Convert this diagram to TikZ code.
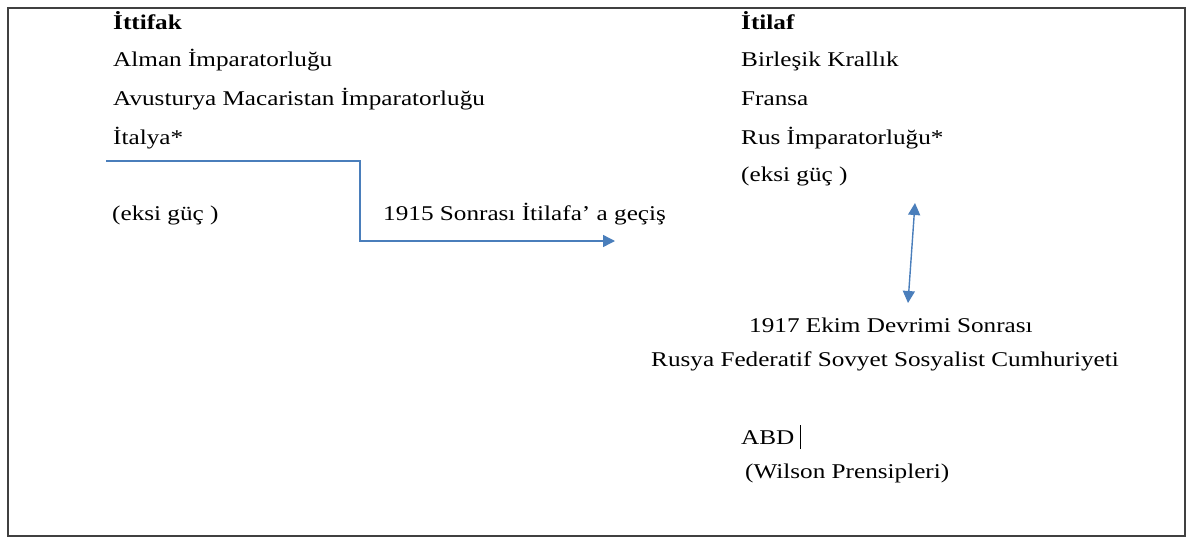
\documentclass[tikz,border=0pt]{standalone}
\usepackage{fontspec}
\setmainfont{Liberation Serif}
\usetikzlibrary{arrows.meta}
\definecolor{arrblue}{HTML}{4A7EBB}
\definecolor{framegray}{HTML}{404040}
\newcommand{\wtxt}[1]{\scalebox{1.2}[1]{#1}}
\begin{document}
\begin{tikzpicture}[x=1pt,y=-1pt,
  txt/.style={anchor=base west, inner sep=0pt, font=\fontsize{21}{25}\selectfont},
  conn/.style={draw=arrblue, line width=1.4pt},
  tip/.style={-{Triangle[length=12pt,width=12pt]}},
  dtip/.style={{Triangle[length=12pt,width=12pt]}-{Triangle[length=12pt,width=12pt]}}]
\useasboundingbox (0,0) rectangle (1187,539);
\draw[framegray, line width=2pt] (8,8) rectangle (1185,536);
% left column
\node[txt] (ittifak) at (113,29) {\wtxt{\textbf{İttifak}}};
\node[txt] (alman) at (113,66) {\wtxt{Alman İmparatorluğu}};
\node[txt] (avus) at (113,105) {\wtxt{Avusturya Macaristan İmparatorluğu}};
\node[txt] (italya) at (113,144) {\wtxt{İtalya*}};
\node[txt] (eksiL) at (112,220) {\wtxt{(eksi güç )}};
\node[txt] (gecis) at (383,220) {\wtxt{1915 Sonrası İtilafa’ a geçiş}};
% right column
\node[txt] (itilaf) at (741,29) {\wtxt{\textbf{İtilaf}}};
\node[txt] (birlesik) at (741,66) {\wtxt{Birleşik Krallık}};
\node[txt] (fransa) at (741,105) {\wtxt{Fransa}};
\node[txt] (rus) at (741,144) {\wtxt{Rus İmparatorluğu*}};
\node[txt] (eksiR) at (741,181) {\wtxt{(eksi güç )}};
\node[txt] (ekim) at (749,332) {\wtxt{1917 Ekim Devrimi Sonrası}};
\node[txt] (rsfsc) at (651,366) {\wtxt{Rusya Federatif Sovyet Sosyalist Cumhuriyeti}};
\node[txt] (abd) at (741,444) {\wtxt{ABD}};
\node[txt] (wilson) at (745,478) {\wtxt{(Wilson Prensipleri)}};
\draw[black, line width=1pt] (abd.base east) ++(6,5) coordinate (barB) -- ++(0,-24) coordinate (barT);
% connectors
\coordinate (cStart) at (106,161);
\coordinate (cEnd) at (615,241);
\draw[conn, tip] (cStart) -- (360,161) -- (360,241) -- (cEnd);
\coordinate (rTop) at (915,203);
\coordinate (rBot) at (908,303);
\draw[conn, dtip] (rTop) -- (rBot);
\end{tikzpicture}
\end{document}
